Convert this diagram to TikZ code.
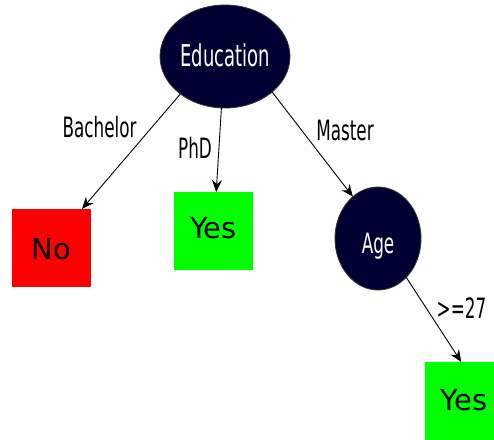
\documentclass[tikz,border=0pt]{standalone}
\usepackage{fontspec}
\setmainfont{DejaVu Sans}
\newfontfamily\lblfont[FakeStretch=0.6]{DejaVu Sans}
\usetikzlibrary{shapes.geometric,arrows.meta}
\definecolor{navy}{RGB}{0,0,51}
\definecolor{nored}{RGB}{255,0,0}
\definecolor{yesgreen}{RGB}{0,255,0}
\begin{document}
\begin{tikzpicture}[x=1pt,y=-1pt,
  decision/.style={ellipse, fill=navy, draw=black!80, line width=0.8pt, inner sep=0pt, outer sep=0pt, text=white, font=\lblfont\fontsize{30}{30}\selectfont},
  leaf/.style={rectangle, inner sep=0pt, outer sep=0pt, minimum width=79pt, minimum height=78pt, text depth=0pt, font=\fontsize{29}{29}\selectfont},
  edgelbl/.style={anchor=base, inner sep=0pt, font=\lblfont\fontsize{28}{28}\selectfont},
  arr/.style={-{Stealth[length=12pt,width=10pt,inset=4pt]}, line width=0.9pt}
]
\useasboundingbox (0,0) rectangle (494,439);
\node[decision, minimum width=130pt, minimum height=103pt, text height=19pt, text depth=0pt] (edu) at (225,56.5) {Education};
\node[decision, minimum width=86pt, minimum height=103pt, text height=29pt, text depth=0pt, font=\lblfont\fontsize{28}{28}\selectfont] (age) at (378,238.5) {Age};
\node[leaf, fill=nored, text height=22pt] (no) at (51.5,248) {No};
\node[leaf, fill=yesgreen, text height=14pt] (yesa) at (213.5,231) {Yes};
\node[leaf, fill=yesgreen, text height=18pt] (yesb) at (464,401) {Yes};
\node[edgelbl] (lb) at (99.5,137) {Bachelor};
\node[edgelbl] (lp) at (195,158) {PhD};
\node[edgelbl] (lm) at (345,140) {Master};
\node[edgelbl] (lg) at (461.5,318) {>=27};
\draw[arr] (edu.220) -- (no.52);
\draw[arr] (edu.266) -- (yesa.86);
\draw[arr] (edu.323) -- (age.121);
\draw[arr] (age.306) -- (yesb.94);
\end{tikzpicture}
\end{document}
